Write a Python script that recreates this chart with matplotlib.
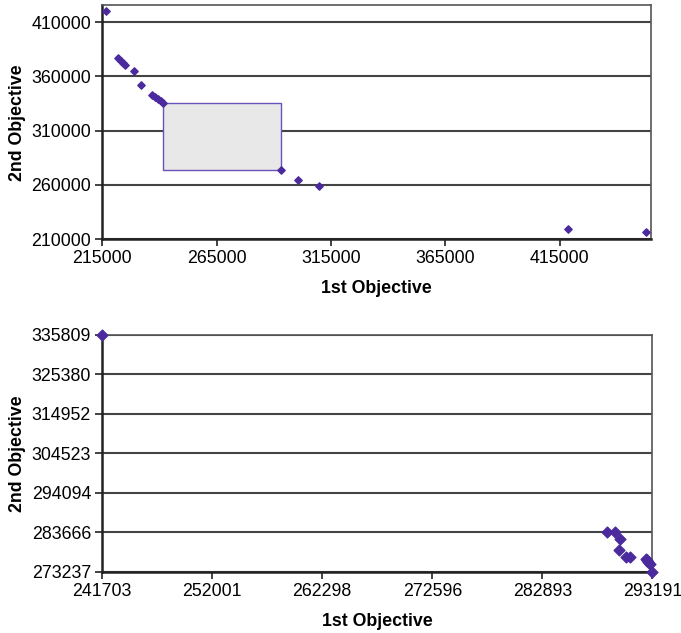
import matplotlib.pyplot as plt
import numpy as np
from matplotlib.patches import Rectangle

plt.rcParams['font.family'] = ['Liberation Sans', 'DejaVu Sans']

# top chart: full front
top_x = [216500, 222100, 223100, 223900, 225200, 229000, 232100, 236600, 238000,
         239300, 240600, 241703, 293191, 300800, 309700, 418900, 452700]
top_y = [420200, 376700, 374600, 372800, 370200, 365400, 352500, 342700, 341000,
         339100, 337200, 335809, 273237, 264700, 258600, 218900, 216100]
top_xticks = [215000, 265000, 315000, 365000, 415000]
top_yticks = [210000, 260000, 310000, 360000, 410000]

# bottom chart: zoom of the shaded box
bot_x = [241703, 288900, 289720, 290150, 290080, 290740, 291070, 292550, 292700,
         292820, 292940, 293191]
bot_y = [335809, 283700, 283700, 281980, 279020, 277170, 277170, 276700, 276430,
         275900, 275320, 273237]
bot_xticks = [241703, 252001, 262298, 272596, 282893, 293191]
bot_yticks = [273237, 283666, 294094, 304523, 314952, 325380, 335809]

mcol = '#4B2A9E'


def style_axes(ax, yticks, xticks):
    ax.set_yticks(yticks)
    ax.set_xticks(xticks)
    ax.set_yticklabels([str(v) for v in yticks])
    ax.set_xticklabels([str(v) for v in xticks])
    ax.tick_params(labelsize=12.8, direction='out', length=5, width=1.2, color='#222222', pad=3)
    ax.grid(axis='y', color='#444444', linewidth=1.5)
    ax.set_axisbelow(True)
    for s in ['left', 'bottom']:
        ax.spines[s].set_linewidth(1.8)
        ax.spines[s].set_color('#222222')
    for s in ['top', 'right']:
        ax.spines[s].set_linewidth(1.2)
        ax.spines[s].set_color('#555555')
    ax.set_xlabel('1st Objective', fontsize=12.8, fontweight='bold', labelpad=9)
    ax.set_ylabel('2nd Objective', fontsize=12.8, fontweight='bold', labelpad=4)


fig = plt.figure(figsize=(6.81, 6.33), dpi=100)

ax1 = fig.add_axes([0.150, 0.6224, 0.806, 0.369])
ax1.add_patch(Rectangle((bot_xticks[0], bot_yticks[0]),
                        bot_xticks[-1] - bot_xticks[0], bot_yticks[-1] - bot_yticks[0],
                        facecolor='#E8E8E8', edgecolor='#6A52B8', linewidth=1.0, zorder=2))
ax1.scatter(top_x, top_y, marker='D', s=14, color=mcol, zorder=3, clip_on=False)
ax1.set_xlim(215000, 455000)
ax1.set_ylim(210000, 425500)
style_axes(ax1, top_yticks, top_xticks)

ax2 = fig.add_axes([0.150, 0.0964, 0.808, 0.3744])
ax2.scatter(bot_x, bot_y, marker='D', s=30, color=mcol, zorder=3, clip_on=False)
ax2.set_xlim(bot_xticks[0], bot_xticks[-1])
ax2.set_ylim(bot_yticks[0], bot_yticks[-1])
style_axes(ax2, bot_yticks, bot_xticks)

fig.savefig('out.png', dpi=100)
